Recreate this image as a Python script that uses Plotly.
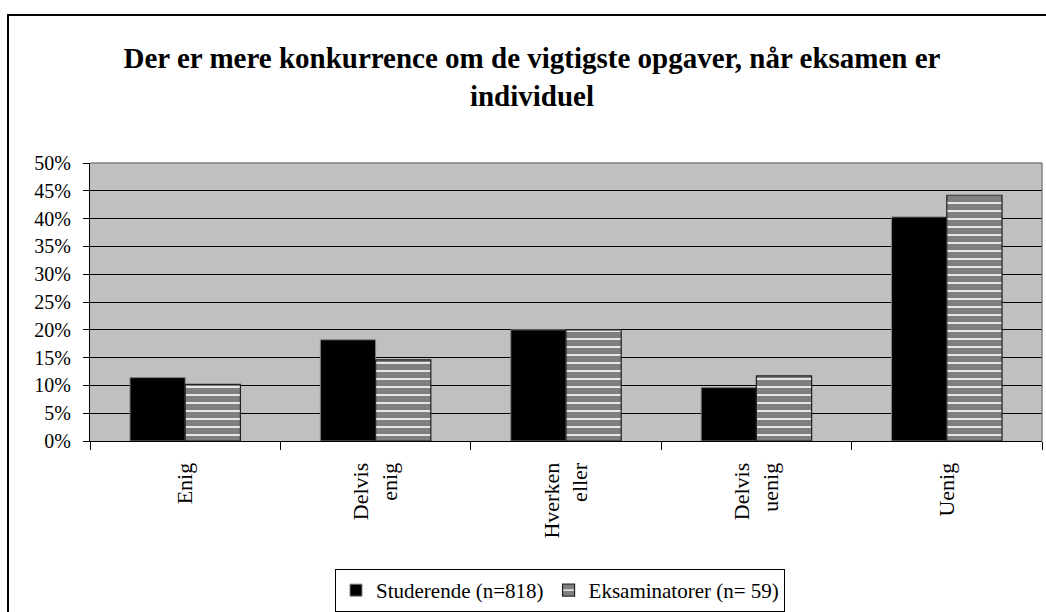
import plotly.graph_objects as go

categories = ["Enig", "Delvis<br>enig", "Hverken<br>eller", "Delvis<br>uenig", "Uenig"]
studerende = [0.114, 0.182, 0.200, 0.096, 0.403]
eksaminatorer = [0.102, 0.146, 0.200, 0.117, 0.442]
series_names = ["Studerende (n=818)", "Eksaminatorer (n= 59)"]
title_text = "Der er mere konkurrence om de vigtigste opgaver, når eksamen er<br>individuel"

W, H = 1046, 612
L, R, T, B = 90, 4, 163, 171
pw, ph = W - L - R, H - T - B

def px_x(x):
    return (x - L) / pw

def px_y(y):
    return (H - B - y) / ph

FONT = "Liberation Serif, Times New Roman, serif"

fig = go.Figure()
fig.add_trace(go.Bar(
    x=categories, y=studerende, name=series_names[0],
    marker=dict(color="black", line=dict(color="#808080", width=1)),
))
fig.add_trace(go.Bar(
    x=categories, y=eksaminatorer, name=series_names[1],
    marker=dict(color="white", line=dict(color="#202020", width=1.2),
                pattern=dict(shape="-", fgcolor="black", bgcolor="white",
                             size=8, solidity=0.8)),
))

fig.update_layout(
    width=W, height=H,
    margin=dict(l=L, r=R, t=T, b=B, autoexpand=False),
    paper_bgcolor="white",
    plot_bgcolor="#c0c0c0",
    barmode="group", bargap=0.42, bargroupgap=0,
    font=dict(family=FONT, color="black", size=20),
    title=dict(text=title_text, x=532 / W, xref="container", xanchor="center",
               y=1 - 68 / H, yref="container", yanchor="middle",
               font=dict(family=FONT, size=29, color="black", weight="bold")),
    showlegend=True,
    legend=dict(orientation="h", x=px_x(560), xanchor="center",
                y=px_y(569), yanchor="top",
                bordercolor="black", borderwidth=1, bgcolor="white",
                font=dict(family=FONT, size=21), itemwidth=30,
                traceorder="normal"),
    xaxis=dict(showline=True, linecolor="black", linewidth=1,
               ticks="outside", tickson="boundaries", ticklen=8,
               tickcolor="black", tickangle=-90,
               tickfont=dict(family=FONT, size=22), showgrid=False,
               ticklabelstandoff=12),
    yaxis=dict(range=[0, 0.5], dtick=0.05, tickformat=".0%",
               showline=True, linecolor="black", linewidth=1,
               ticks="outside", ticklen=6, tickcolor="black",
               showgrid=True, gridcolor="black", gridwidth=1,
               zeroline=False, tickfont=dict(family=FONT, size=20),
               ticklabelstandoff=8),
    shapes=[
        dict(type="rect", xref="paper", yref="paper",
             x0=px_x(8), x1=px_x(1060), y0=px_y(630), y1=px_y(15),
             line=dict(color="black", width=2), layer="below"),
        dict(type="line", xref="paper", yref="paper",
             x0=0, x1=1, y0=1, y1=1, line=dict(color="#808080", width=1.5)),
        dict(type="line", xref="paper", yref="paper",
             x0=1, x1=1, y0=0, y1=1, line=dict(color="#808080", width=1.5)),
    ],
)

fig.write_html("out.html", config={"displayModeBar": False},
               post_script="document.body.style.margin='0';")
